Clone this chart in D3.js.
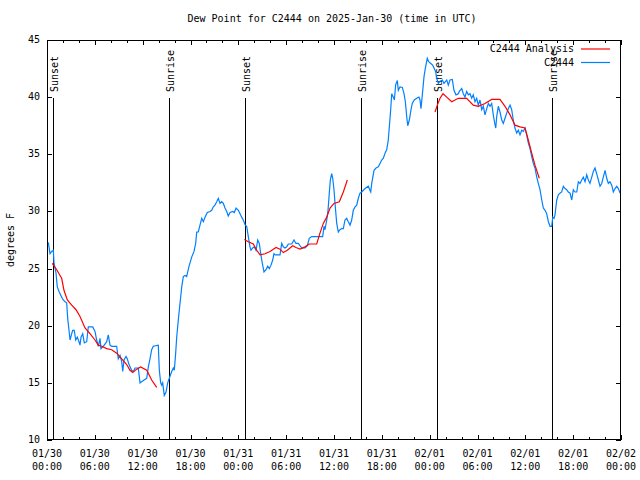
<!DOCTYPE html>
<html>
<head>
<meta charset="utf-8">
<script src="https://cdn.jsdelivr.net/npm/d3@7"></script>
<style>
  html, body { margin: 0; padding: 0; background: #fff; }
  svg { display: block; }
  text { font-family: "DejaVu Sans Mono", "Liberation Mono", monospace; font-size: 10px; fill: #000; }
</style>
</head>
<body>
<svg id="chart" width="640" height="480"></svg>
<script>
// ---- data (hours after 2025-01-30 00:00 UTC) ----
const titleText = "Dew Point for C2444 on 2025-Jan-30 (time in UTC)";
const yLabel = "degrees F";
const seriesNames = ["C2444 Analysis", "C2444"];
const yTicks = [10, 15, 20, 25, 30, 35, 40, 45];
const xTickHours = [0, 6, 12, 18, 24, 30, 36, 42, 48, 54, 60, 66, 72];

const obsHours = [0.16,0.38,0.59,0.79,0.88,1.13,1.29,1.51,1.84,2.04,2.26,2.47,2.60,2.76,2.89,3.10,3.22,3.42,3.60,3.80,4.01,4.14,4.27,4.48,4.68,4.98,5.18,5.73,6.02,6.23,6.44,6.65,6.77,7.06,7.49,7.69,7.90,8.12,8.53,8.74,8.94,9.16,9.37,9.50,9.66,9.91,10.07,10.29,10.62,10.83,11.04,11.45,11.67,11.88,12.17,12.51,12.71,12.92,13.13,13.33,13.96,14.09,14.26,14.39,14.51,14.71,14.93,15.14,15.34,15.64,15.84,15.97,16.14,16.27,16.47,16.60,16.90,17.10,17.31,17.52,17.81,18.15,18.44,18.65,18.78,18.98,19.19,19.41,19.61,19.82,20.11,20.45,20.66,20.86,21.07,21.29,21.49,21.70,21.91,22.12,22.33,22.54,22.74,22.96,23.29,23.50,23.71,24.00,24.21,24.42,24.62,24.87,25.05,25.25,25.46,25.59,25.80,26.00,26.22,26.43,26.63,26.81,27.01,27.22,27.47,27.69,27.89,28.10,28.31,28.47,28.64,28.89,29.23,29.44,29.64,29.85,30.07,30.27,30.70,30.98,31.23,31.52,31.95,32.36,32.65,32.90,33.20,33.62,34.24,34.58,34.75,34.87,35.09,35.25,35.41,35.54,35.71,35.84,36.00,36.13,36.34,36.54,36.75,36.97,37.17,37.38,37.59,37.79,38.01,38.22,38.42,38.64,38.85,39.05,39.26,39.48,39.89,40.30,40.61,40.73,41.02,41.27,41.56,41.77,41.98,42.19,42.40,42.61,42.81,42.94,43.11,43.24,43.44,43.57,43.74,43.94,44.07,44.28,44.57,44.78,44.95,45.12,45.25,45.45,45.66,45.82,46.07,46.37,46.66,46.79,46.91,47.08,47.29,47.45,47.70,47.88,48.13,48.38,48.58,48.76,48.88,49.09,49.30,49.59,49.80,50.14,50.34,50.55,50.84,51.05,51.30,51.59,51.72,52.02,52.22,52.43,52.64,52.85,53.06,53.27,53.47,53.69,53.90,54.10,54.31,54.53,54.73,54.94,55.16,55.36,55.57,55.78,55.98,56.16,56.29,56.41,56.61,56.82,57.04,57.24,57.45,57.66,57.87,58.08,58.29,58.49,58.70,58.92,59.12,59.33,59.55,59.75,59.96,60.17,60.37,60.59,60.80,61.00,61.21,61.43,61.63,61.84,62.06,62.26,62.47,62.68,62.89,63.10,63.31,63.44,63.60,63.72,63.94,64.14,64.35,64.56,64.77,64.98,65.19,65.39,65.61,65.82,66.02,66.23,66.45,66.65,66.86,67.07,67.27,67.49,67.70,67.90,68.11,68.33,68.53,68.74,68.95,69.16,69.37,69.58,69.78,70.00,70.21,70.41,70.62,70.84,71.04,71.25,71.47,71.67,71.88];
const obsValues = [27.3,26.3,26.5,26.6,25.5,24.6,23.4,23.0,22.5,22.25,22.1,22.0,20.6,19.6,18.75,19.3,19.6,19.6,18.75,19.0,18.6,18.3,19.0,19.3,18.5,18.6,19.9,19.9,19.5,18.75,18.2,18.9,18.0,18.2,18.6,19.2,18.3,18.2,18.2,18.2,17.1,17.4,16.85,16.0,17.0,17.3,17.1,16.6,16.1,16.0,16.3,16.3,15.0,15.1,15.25,15.4,16.4,17.1,17.9,18.2,18.3,16.1,15.0,14.8,15.0,13.9,14.2,15.0,15.4,16.0,16.3,16.1,17.6,19.0,20.5,21.4,23.4,24.3,24.4,24.3,25.2,26.0,26.5,27.2,28.2,28.2,28.8,29.4,29.1,29.5,29.9,30.0,30.1,30.4,30.55,30.85,31.15,30.7,30.85,30.7,30.3,30.0,29.6,29.9,30.0,29.9,30.3,30.1,29.8,29.5,29.25,28.8,28.7,27.8,26.9,26.6,26.8,26.9,26.6,27.5,27.2,26.3,25.45,24.7,24.9,25.2,25.0,25.3,25.75,26.3,26.2,26.2,26.2,27.2,26.9,26.8,26.9,27.15,27.15,27.5,27.2,27.2,26.8,26.8,27.0,27.65,27.8,27.8,27.8,27.8,28.7,28.4,29.25,30.1,31.6,32.75,33.3,32.9,31.9,30.7,28.95,28.2,28.4,28.5,28.5,29.25,29.4,29.1,28.8,29.25,30.1,30.4,30.55,31.15,31.6,31.7,32.0,32.2,31.7,32.45,33.6,33.8,33.9,34.2,34.5,34.65,35.1,35.4,36.25,37.4,38.9,40.3,40.0,39.75,41.1,41.45,40.6,40.9,40.85,40.3,39.6,38.3,37.5,38.0,38.9,39.45,39.75,39.9,40.0,39.75,39.0,40.2,41.8,42.5,43.4,43.1,42.95,42.8,42.5,42.2,41.65,41.2,41.4,41.5,41.2,41.5,41.05,41.5,41.55,40.6,40.2,40.3,40.5,40.75,40.3,40.0,40.5,40.2,40.3,39.9,40.2,39.6,39.9,39.3,39.75,38.9,39.2,38.45,39.0,39.45,39.2,39.45,38.45,37.7,37.3,38.3,39.2,38.7,38.0,37.7,38.15,38.6,39.0,39.3,38.9,38.0,37.3,36.85,37.1,36.7,37.1,37.0,37.3,36.7,36.0,35.5,34.8,34.2,33.8,33.0,32.45,31.9,31.0,30.3,30.1,29.8,29.1,28.7,28.7,29.5,29.4,29.7,31.0,31.45,31.6,31.7,32.2,32.0,31.9,31.7,31.6,31.0,31.9,31.7,31.7,32.6,32.45,32.75,33.0,32.6,33.2,32.75,32.45,33.0,33.5,33.8,33.3,32.75,32.2,32.45,33.0,33.6,32.9,32.45,32.6,32.3,31.7,32.0,32.2,32.0,31.6];

// analysis series: three nightly runs, null separates them
const anaHours = [0.66,1.22,1.63,1.84,2.13,2.55,3.10,3.64,4.14,4.77,5.39,6.02,6.44,6.86,7.49,8.12,8.74,9.37,10.00,10.41,10.75,11.25,11.75,12.51,13.13,13.76,
  null,
  24.75,25.25,25.88,26.31,26.72,27.35,27.97,28.73,29.23,29.64,30.14,30.82,31.23,31.74,32.36,32.90,33.83,34.24,34.66,35.09,35.50,36.00,36.67,37.17,37.67,
  null,
  48.67,48.96,49.30,49.67,50.14,50.77,51.59,52.64,53.47,54.10,54.94,55.78,56.82,57.45,58.08,58.70,59.33,59.96,60.37,60.80,61.21,61.75];
const anaValues = [25.45,24.9,24.4,24.15,23.1,22.25,21.8,21.4,20.8,19.8,19.3,18.75,18.3,18.2,18.0,17.9,17.6,17.1,16.6,16.1,15.9,16.2,16.4,16.1,15.25,14.6,
  null,
  27.55,27.35,27.15,26.6,26.2,26.3,26.5,26.85,26.7,26.4,26.6,27.0,26.85,26.7,26.9,27.15,27.15,28.1,28.95,29.5,30.3,30.7,30.85,31.7,32.75,
  null,
  38.7,39.3,39.9,40.3,40.0,39.6,39.9,39.9,39.3,39.2,39.45,39.8,39.8,39.2,38.45,37.55,37.4,37.3,36.25,35.1,34.05,32.9];

const sunLabels = ["Sunset", "Sunrise", "Sunset", "Sunrise", "Sunset", "Sunrise"];
const sunHours = [0.79, 15.34, 24.88, 39.43, 48.96, 63.39];

// ---- drawing ----
const svg = d3.select("#chart");
const mLeft = 47, mRight = 621, mTop = 40, mBottom = 440;
const base = Date.UTC(2025, 0, 30, 0, 0);
const toDate = h => new Date(base + h * 3600000);

const x = d3.scaleUtc().domain([toDate(0), toDate(72)]).range([mLeft, mRight]);
const y = d3.scaleLinear().domain([10, 45]).range([mBottom, mTop]);

svg.append("text").attr("x", 332).attr("y", 19).attr("text-anchor", "middle")
  .attr("dominant-baseline", "middle").text(titleText);

svg.append("text")
  .attr("transform", `translate(11,${(mTop + mBottom) / 2}) rotate(-90)`)
  .attr("text-anchor", "middle").attr("dominant-baseline", "middle").text(yLabel);

// axes ticks
const tg = svg.append("g").attr("shape-rendering", "crispEdges").attr("stroke", "#000");
const minorHours = d3.range(0, 73, 2).filter(h => h % 6 !== 0);
xTickHours.forEach(h => {
  const xx = Math.round(x(toDate(h))) + 0.5;
  tg.append("line").attr("x1", xx).attr("x2", xx).attr("y1", mBottom).attr("y2", mBottom - 5);
  tg.append("line").attr("x1", xx).attr("x2", xx).attr("y1", mTop).attr("y2", mTop + 5);
});
minorHours.forEach(h => {
  const xx = Math.round(x(toDate(h))) + 0.5;
  tg.append("line").attr("x1", xx).attr("x2", xx).attr("y1", mBottom).attr("y2", mBottom - 3);
  tg.append("line").attr("x1", xx).attr("x2", xx).attr("y1", mTop).attr("y2", mTop + 3);
});
yTicks.forEach(v => {
  const yy = Math.round(y(v)) + 0.5;
  tg.append("line").attr("x1", mLeft).attr("x2", mLeft + 5).attr("y1", yy).attr("y2", yy);
  tg.append("line").attr("x1", mRight).attr("x2", mRight - 5).attr("y1", yy).attr("y2", yy);
});

// tick labels
const fmtD = d3.utcFormat("%m/%d"), fmtT = d3.utcFormat("%H:%M");
xTickHours.forEach(h => {
  const d = toDate(h);
  const xx = x(d);
  svg.append("text").attr("x", xx).attr("y", 454).attr("text-anchor", "middle")
    .attr("dominant-baseline", "middle").text(fmtD(d));
  svg.append("text").attr("x", xx).attr("y", 467).attr("text-anchor", "middle")
    .attr("dominant-baseline", "middle").text(fmtT(d));
});
yTicks.forEach(v => {
  svg.append("text").attr("x", 40).attr("y", y(v)).attr("text-anchor", "end")
    .attr("dominant-baseline", "middle").text(v);
});

// sunrise/sunset lines
sunHours.forEach((h, i) => {
  const xx = Math.round(x(toDate(h))) + 0.5;
  tg.append("line").attr("x1", xx).attr("x2", xx).attr("y1", 98).attr("y2", mBottom);
  svg.append("text").attr("transform", `translate(${xx + 1},92) rotate(-90)`)
    .attr("text-anchor", "start").attr("dominant-baseline", "middle").text(sunLabels[i]);
});

// series
const obs = obsHours.map((h, i) => ({ t: toDate(h), v: obsValues[i] }));
const ana = anaHours.map((h, i) => ({ t: h === null ? null : toDate(h), v: anaValues[i] }));
const line = d3.line().defined(d => d.t !== null && d.v != null).x(d => x(d.t)).y(d => y(d.v));

svg.append("path").datum(obs).attr("d", line).attr("fill", "none")
  .attr("stroke", "#0080ff").attr("stroke-width", 1.2);
svg.append("path").datum(ana).attr("d", line).attr("fill", "none")
  .attr("stroke", "#ff0000").attr("stroke-width", 1.2);

// legend
const legColors = ["#ff0000", "#0080ff"];
const legY = [49, 62.5];
seriesNames.forEach((n, i) => {
  svg.append("text").attr("x", 574).attr("y", legY[i]).attr("text-anchor", "end")
    .attr("dominant-baseline", "middle").text(n);
  svg.append("line").attr("x1", 581).attr("x2", 610).attr("y1", legY[i]).attr("y2", legY[i])
    .attr("stroke", legColors[i]).attr("stroke-width", 1.2);
});

// frame
svg.append("rect").attr("x", mLeft + 0.5).attr("y", mTop + 0.5)
  .attr("width", mRight - mLeft - 1).attr("height", mBottom - mTop - 1)
  .attr("fill", "none").attr("stroke", "#000").attr("shape-rendering", "crispEdges");
</script>
</body>
</html>
